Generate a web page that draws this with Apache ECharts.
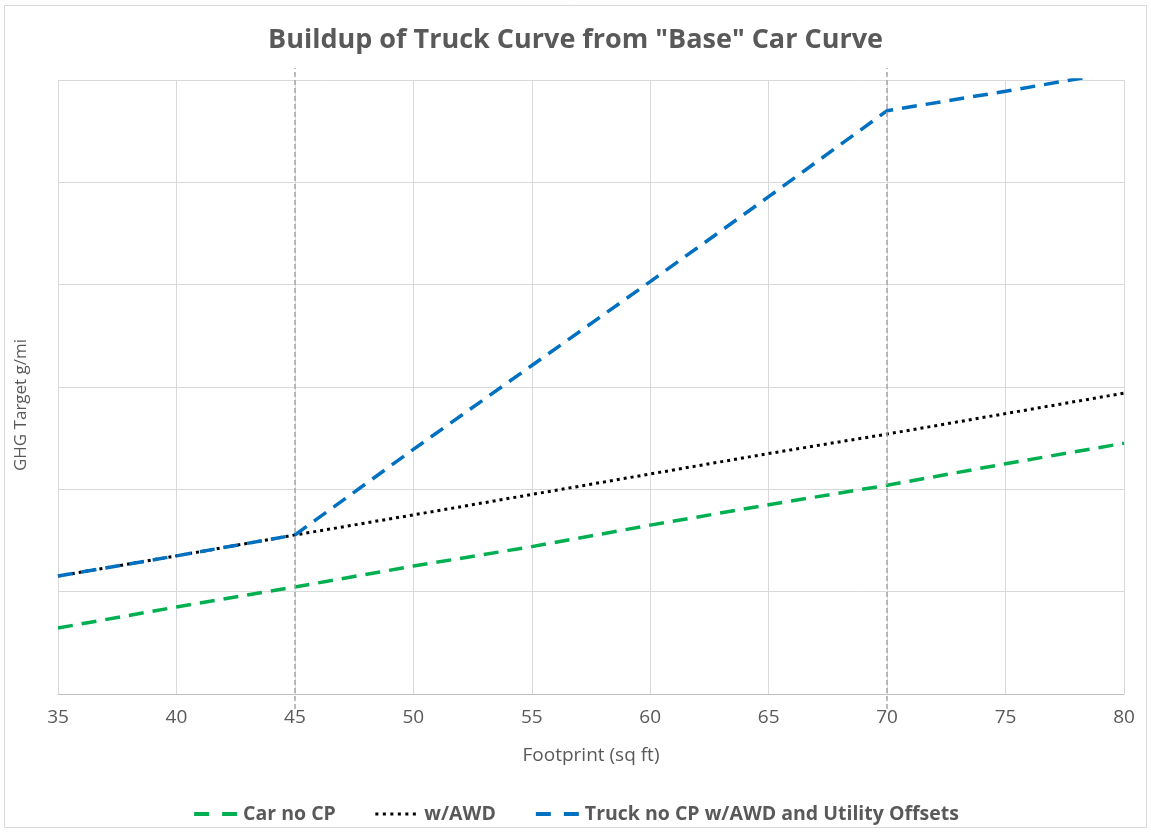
<!DOCTYPE html>
<html>
<head>
<meta charset="utf-8">
<script src="https://cdn.jsdelivr.net/npm/echarts@6/dist/echarts.min.js"></script>
<style>
html,body{margin:0;padding:0;background:#fff;}
#chart{width:1151px;height:833px;}
</style>
</head>
<body>
<div id="chart"></div>
<script>
const footprint = [35, 40, 45, 50, 55, 60, 65, 70, 75, 80];
const carNoCP = [0.645, 0.85, 1.046, 1.25, 1.44, 1.65, 1.85, 2.04, 2.25, 2.45];
const withAWD = [1.153, 1.35, 1.554, 1.75, 1.95, 2.15, 2.35, 2.54, 2.74, 2.94];
const truck = [1.153, 1.35, 1.554, 2.39, 3.21, 4.03, 4.86, 5.70, 5.89, 6.09];
const xTicks = [35, 40, 45, 50, 55, 60, 65, 70, 75, 80];
const refLines = [45, 70];

const pairs = (ys) => footprint.map((x, i) => [x, ys[i]]);
const FONT = '"Open Sans", "Noto Sans", sans-serif';
const TXT = '#595959';

const chart = echarts.init(document.getElementById('chart'));
chart.setOption({
  animation: false,
  backgroundColor: '#fff',
  title: {
    text: 'Buildup of Truck Curve from "Base" Car Curve',
    left: 'center',
    top: 22,
    textStyle: {fontFamily: FONT, fontSize: 27, fontWeight: 'bold', color: TXT}
  },
  graphic: [{
    type: 'rect', silent: true,
    shape: {x: 4.5, y: 5.5, width: 1142, height: 822},
    style: {fill: 'none', stroke: '#d9d9d9', lineWidth: 1}
  }],
  legend: {
    top: 799,
    left: 'center',
    itemWidth: 44,
    itemHeight: 14,
    itemGap: 38,
    itemStyle: {opacity: 0},
    textStyle: {fontFamily: FONT, fontSize: 19.5, fontWeight: 'bold', color: TXT},
    data: [
      {name: 'Car no CP', lineStyle: {width: 4, type: [15, 13]}},
      {name: 'w/AWD', lineStyle: {width: 3, type: [3, 4.5]}},
      {name: 'Truck no CP w/AWD and Utility Offsets', lineStyle: {width: 4, type: [15, 13]}}
    ]
  },
  grid: [
    {left: 58, right: 27, top: 80, bottom: 139},
    {left: 58, right: 27, top: 68, bottom: 124}
  ],
  xAxis: [{
    gridIndex: 0,
    type: 'value', min: 35, max: 80, interval: 5,
    name: 'Footprint (sq ft)', nameLocation: 'middle', nameGap: 52,
    nameTextStyle: {fontFamily: FONT, fontSize: 19, color: TXT},
    axisLabel: {fontFamily: FONT, fontSize: 19, color: TXT, margin: 14,
      formatter: (v) => xTicks.includes(v) ? String(v) : ''},
    axisTick: {show: false},
    axisLine: {lineStyle: {color: '#bfbfbf', width: 1}},
    splitLine: {show: true, lineStyle: {color: '#d9d9d9', width: 1}}
  }, {
    gridIndex: 1,
    type: 'value', min: 35, max: 80, show: false
  }],
  yAxis: [{
    gridIndex: 0,
    type: 'value', min: 0, max: 6, interval: 1,
    name: 'GHG Target g/mi', nameLocation: 'middle', nameGap: 28,
    nameTextStyle: {fontFamily: FONT, fontSize: 17, color: TXT, padding: [0, 36, 0, 0]},
    axisLabel: {show: false},
    axisTick: {show: false},
    axisLine: {show: false},
    splitLine: {show: true, lineStyle: {color: '#d9d9d9', width: 1}}
  }, {
    gridIndex: 1,
    type: 'value', min: 0, max: 1, show: false
  }],
  series: [{
    name: 'refs', type: 'line', xAxisIndex: 1, yAxisIndex: 1,
    data: [], silent: true,
    markLine: {
      silent: true, symbol: ['none', 'none'], label: {show: false},
      lineStyle: {color: '#a6a6a6', type: [5, 3], width: 1.5},
      data: refLines.map(v => ({xAxis: v}))
    }
  }, {
    name: 'Car no CP', type: 'line', data: pairs(carNoCP),
    symbol: 'none', color: '#00b050',
    lineStyle: {color: '#00b050', width: 3.5, type: [15, 9]}
  }, {
    name: 'w/AWD', type: 'line', data: pairs(withAWD),
    symbol: 'none', color: '#000000',
    lineStyle: {color: '#000000', width: 3, type: [3, 4]}
  }, {
    name: 'Truck no CP w/AWD and Utility Offsets', type: 'line', data: pairs(truck),
    symbol: 'none', color: '#0070c0',
    lineStyle: {color: '#0070c0', width: 3.5, type: [15, 9]}
  }]
});
</script>
</body>
</html>
